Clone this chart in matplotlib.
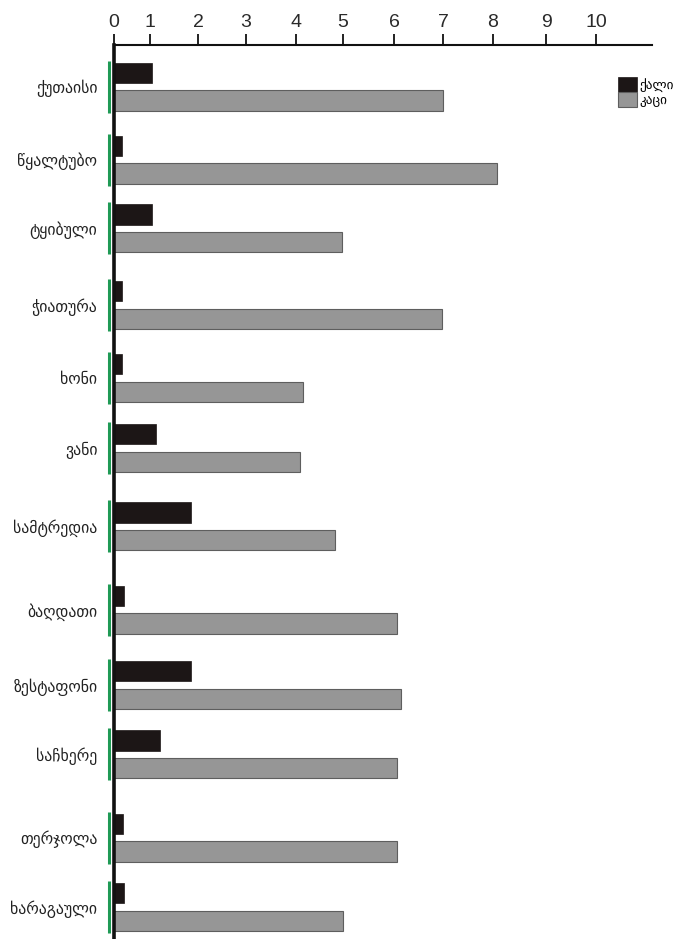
import numpy as np
import matplotlib
matplotlib.use("Agg")
import matplotlib.pyplot as plt
import matplotlib.transforms as mtransforms

# data
towns = ["ქუთაისი", "წყალტუბო", "ტყიბული", "ჭიათურა", "ხონი", "ვანი",
         "სამტრედია", "ბაღდათი", "ზესტაფონი", "საჩხერე", "თერჯოლა", "ხარაგაული"]
female = [1.05, 0.22, 1.05, 0.22, 0.22, 1.13, 1.85, 0.28, 1.85, 1.2, 0.25, 0.28]
male = [7.0, 8.08, 4.98, 6.98, 4.14, 4.08, 4.83, 6.06, 6.14, 6.06, 6.06, 5.0]
ticks = [0, 1, 2, 3, 4, 5, 6, 7, 8, 9, 10]
legend_labels = ["ქალი", "კაცი"]

# layout: row centres (in row units) and the uneven tick spacing of the drawn axis
row_pos = np.array([0.56, 1.54, 2.46, 3.49, 4.47, 5.41, 6.46, 7.58, 8.59, 9.52, 10.64, 11.57])
knot_val = [-1, 0, 1, 2, 3, 4, 5, 6, 7, 8, 9, 10, 12]
knot_px = [78, 114, 150, 198, 246, 296, 343, 394, 443, 493, 546, 596, 696]

def fwd(v):
    return np.interp(v, knot_val, knot_px)

def inv(p):
    return np.interp(p, knot_px, knot_val)

fig = plt.figure(figsize=(6.78, 9.39), dpi=100)
ax = fig.add_axes([114/678, 0.0, (652-114)/678, 1-45/939])
ax.set_xscale("function", functions=(fwd, inv))

h = 0.27
off = 0.185
ax.barh(row_pos - off, female, height=h, color="#1c1616", edgecolor="#1c1616",
        linewidth=0.5, label=legend_labels[0])
ax.barh(row_pos + off, male, height=h, color="#969696", edgecolor="#5e5e5e",
        linewidth=0.8, label=legend_labels[1])

ax.set_xlim(0, inv(652))
ax.set_ylim(12.0, 0)

# green group markers left of the axis
trans = mtransforms.blended_transform_factory(ax.transAxes, ax.transData)
for y in row_pos:
    ax.plot([-0.009, -0.009], [y - 0.35, y + 0.35], color="#1f9a55", lw=2.2,
            transform=trans, clip_on=False, solid_capstyle="butt")

ax.xaxis.tick_top()
ax.set_xticks(ticks)
ax.set_xticklabels([str(t) for t in ticks], family=["Liberation Sans", "DejaVu Sans"],
                   fontsize=14, color="#2a2a2a")
ax.tick_params(axis="x", direction="out", length=8, width=1.3, pad=2, color="#111111")
ax.set_yticks(row_pos)
ax.set_yticklabels(towns, family=["DejaVu Sans"], fontsize=11.3, color="#222222")
ax.tick_params(axis="y", length=0, pad=12)
ax.minorticks_off()

for s in ["right", "bottom"]:
    ax.spines[s].set_visible(False)
ax.spines["top"].set_linewidth(1.5)
ax.spines["top"].set_color("#111111")
ax.spines["left"].set_linewidth(2.6)
ax.spines["left"].set_color("#111111")

ax.legend(loc="upper left", bbox_to_anchor=(0.925, 0.972), frameon=False,
          borderpad=0, handletextpad=0.2, labelspacing=0, handlelength=1.4,
          handleheight=1.4, prop={"family": "DejaVu Sans", "size": 9.5})

fig.savefig("out.png", dpi=100)
